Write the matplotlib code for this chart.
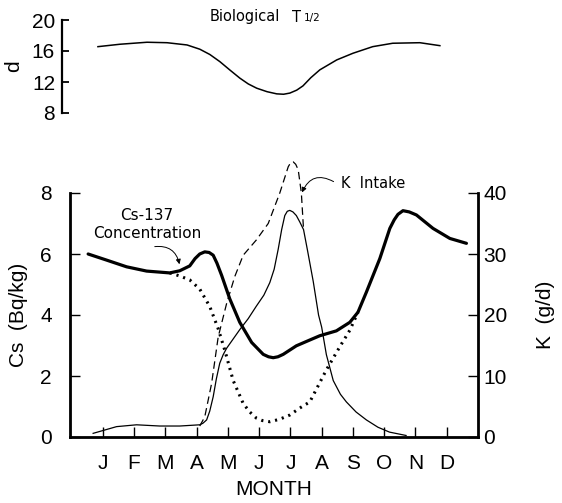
import numpy as np
import matplotlib
matplotlib.use("Agg")
import matplotlib.pyplot as plt

plt.rcParams['font.family'] = ['Liberation Sans', 'DejaVu Sans']

# month labels (J..D at positions 1..12)
months = ["J", "F", "M", "A", "M", "J", "J", "A", "S", "O", "N", "D"]

# biological half-time (d), top panel
bio_x = [0.84, 1.54, 2.41, 3.05, 3.69, 4.10, 4.42, 4.74, 5.06, 5.38, 5.65, 5.92, 6.25,
         6.56, 6.78, 6.98, 7.20, 7.40, 7.65, 7.94, 8.48, 9.0, 9.63, 10.27, 11.14, 11.78]
bio_y = [16.56, 16.87, 17.13, 17.07, 16.78, 16.23, 15.55, 14.63, 13.55, 12.5, 11.75,
         11.2, 10.75, 10.47, 10.42, 10.57, 10.95, 11.5, 12.55, 13.57, 14.85, 15.71,
         16.56, 17.0, 17.07, 16.69]

# Cs-137 concentration (Bq/kg), thick line
cs_x = [0.53, 1.12, 1.76, 2.40, 3.14, 3.46, 3.78, 3.95, 4.10, 4.26, 4.40, 4.53, 4.65,
        4.80, 5.06, 5.38, 5.76, 6.13, 6.30, 6.45, 6.60, 6.77, 7.19, 7.62, 7.94, 8.47,
        8.90, 9.16, 9.43, 9.86, 10.18, 10.32, 10.44, 10.60, 10.80, 11.03, 11.56, 12.10,
        12.63]
cs_y = [6.0, 5.80, 5.58, 5.44, 5.38, 5.45, 5.61, 5.85, 6.0, 6.07, 6.05, 5.96, 5.70,
        5.30, 4.53, 3.76, 3.10, 2.71, 2.63, 2.60, 2.63, 2.71, 2.99, 3.18, 3.32, 3.48,
        3.76, 4.09, 4.75, 5.85, 6.84, 7.12, 7.30, 7.42, 7.38, 7.28, 6.84, 6.51, 6.35]

# thin solid line (left axis units)
thin_x = [0.69, 1.44, 2.08, 2.82, 3.46, 4.10, 4.20, 4.32, 4.42, 4.53, 4.63, 4.74, 4.85,
          4.96, 5.38, 5.65, 5.91, 6.15, 6.34, 6.48, 6.61, 6.72, 6.82, 6.90, 6.98, 7.08,
          7.19, 7.30, 7.42, 7.55, 7.73, 7.90, 8.0, 8.15, 8.37, 8.60, 8.79, 9.10, 9.43,
          9.80, 10.17, 10.7]
thin_y = [0.12, 0.34, 0.40, 0.36, 0.36, 0.40, 0.45, 0.56, 0.85, 1.32, 1.90, 2.42, 2.70,
          2.91, 3.52, 3.88, 4.29, 4.65, 5.06, 5.50, 6.16, 6.80, 7.26, 7.40, 7.43, 7.38,
          7.26, 7.05, 6.8, 6.1, 5.1, 4.0, 3.6, 2.7, 1.85, 1.40, 1.15, 0.82, 0.56, 0.32,
          0.16, 0.05]

# K intake (g/d), dashed, right axis
k_x = [4.10, 4.26, 4.48, 4.69, 4.96, 5.22, 5.49, 5.91, 6.29, 6.66, 6.93, 7.01, 7.09,
       7.17, 7.25, 7.35, 7.42]
k_y = [1.8, 3.3, 8.8, 16.4, 21.9, 26.3, 29.8, 32.3, 35.0, 40.0, 44.3, 45.0, 45.1,
       44.7, 43.8, 40.0, 34.0]

# dotted line (left axis units)
dot_x = [3.14, 3.46, 3.78, 4.10, 4.42, 4.69, 4.90, 5.17, 5.49, 5.70, 5.91, 6.10, 6.34,
         6.65, 6.98, 7.30, 7.62, 8.15, 8.58, 8.90, 9.16]
dot_y = [5.38, 5.28, 5.15, 4.85, 4.28, 3.55, 2.85, 1.85, 1.1, 0.82, 0.62, 0.54, 0.5,
         0.58, 0.72, 0.95, 1.15, 2.2, 2.96, 3.5, 4.09]

fig = plt.figure(figsize=(5.62, 5.03), dpi=100)

# top panel
axt = fig.add_axes([62/562, 1 - 113/503, (478 - 62)/562, 93/503])
axt.plot(bio_x, bio_y, color='black', lw=1.1, solid_joinstyle='round')
axt.set_xlim(-0.31, 13.0)
axt.set_ylim(8, 20)
axt.set_yticks([8, 12, 16, 20])
for s in ['top', 'right', 'bottom']:
    axt.spines[s].set_visible(False)
axt.spines['left'].set_linewidth(1.6)
axt.set_xticks([])
axt.tick_params(axis='y', direction='in', length=5, width=1.3, pad=5, labelsize=15)
axt.set_ylabel("d", fontsize=15, labelpad=6)
axt.patch.set_visible(False)

fig.text(210/562, 1 - 17/503, "Biological", fontsize=10.5, ha='left', va='center',
         family='DejaVu Sans')
fig.text(292/562, 1 - 17/503, "T", fontsize=10.5, ha='left', va='center',
         family='DejaVu Sans')
fig.text(304/562, 1 - 18/503, "1/2", fontsize=7.5, ha='left', va='center',
         family='DejaVu Sans')

# main panel
ax = fig.add_axes([70/562, 1 - 437/503, (478 - 70)/562, (437 - 193)/503])
ax2 = ax.twinx()

ax.plot(cs_x, cs_y, color='black', lw=2.3, solid_capstyle='round',
        solid_joinstyle='round')
ax.plot(thin_x, thin_y, color='black', lw=0.9, solid_joinstyle='round')
ax.plot(dot_x, dot_y, color='black', lw=2.2, linestyle=(0, (0.7, 1.6)))
ax2.plot(k_x, k_y, color='black', lw=0.9, linestyle=(0, (6, 3.5)), clip_on=False)

ax.set_xlim(-0.05, 13.0)
ax.set_ylim(0, 8)
ax2.set_ylim(0, 40)
ax.set_xticks(range(1, 13))
ax.set_xticklabels(months)
ax.set_yticks([0, 2, 4, 6, 8])
ax2.set_yticks([0, 10, 20, 30, 40])

ax.spines['top'].set_visible(False)
ax2.spines['top'].set_visible(False)
for s in ['left', 'bottom']:
    ax.spines[s].set_linewidth(2.0)
ax2.spines['right'].set_linewidth(2.0)

ax.tick_params(axis='x', direction='in', length=7, width=1.0, pad=12, labelsize=15)
ax.tick_params(axis='y', direction='in', length=7, width=1.0, pad=13, labelsize=15)
ax2.tick_params(axis='y', direction='in', length=7, width=1.0, pad=4, labelsize=15)

ax.set_xlabel("MONTH", fontsize=15, labelpad=5)
ax.set_ylabel("Cs  (Bq/kg)", fontsize=15, labelpad=9)
ax2.set_ylabel("K  (g/d)", fontsize=15, labelpad=21)

# annotations
fig.text(147/562, 1 - 224/503, "Cs-137\nConcentration", fontsize=11,
         ha='center', va='center', linespacing=1.25, family='DejaVu Sans')
ax.annotate("", xy=(180, 503 - 267), xycoords='figure pixels',
            xytext=(152, 503 - 247), textcoords='figure pixels',
            arrowprops=dict(arrowstyle='-|>', color='black', lw=0.7,
                            mutation_scale=7, connectionstyle="arc3,rad=-0.5"))
fig.text(341/562, 1 - 184/503, "K  Intake", fontsize=10.5, ha='left', va='center',
         family='DejaVu Sans')
ax.annotate("", xy=(301, 503 - 195), xycoords='figure pixels',
            xytext=(336, 503 - 183), textcoords='figure pixels',
            arrowprops=dict(arrowstyle='-|>', color='black', lw=0.7,
                            mutation_scale=7, connectionstyle="arc3,rad=0.6"))

fig.savefig("out.png", dpi=100)
